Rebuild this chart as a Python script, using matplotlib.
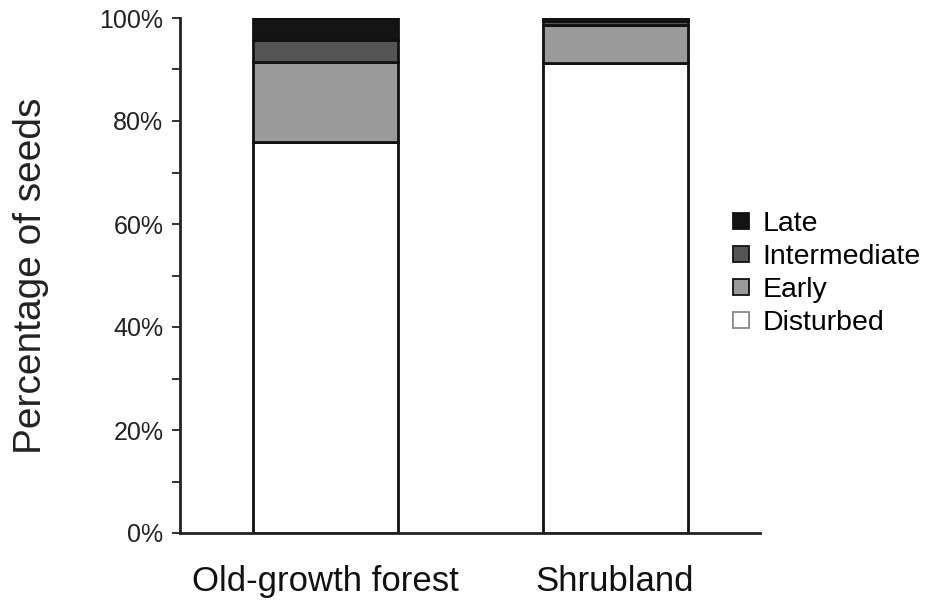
import matplotlib
matplotlib.use('Agg')
import matplotlib.pyplot as plt
from matplotlib.lines import Line2D
from matplotlib.ticker import MultipleLocator, FuncFormatter

plt.rcParams['font.family'] = ['Liberation Sans', 'DejaVu Sans']

# data (percent of seeds)
categories = ['Old-growth forest', 'Shrubland']
disturbed = [76.0, 91.3]
early = [15.5, 7.3]
intermediate = [4.3, 0.9]
late = [4.2, 0.5]

series = [
    ('Disturbed', disturbed, '#ffffff'),
    ('Early', early, '#9a9a9a'),
    ('Intermediate', intermediate, '#555555'),
    ('Late', late, '#141414'),
]

fig = plt.figure(figsize=(9.32, 6.02), dpi=100)
ax = fig.add_axes([180 / 932, 1 - 533 / 602, 580 / 932, 515 / 602])

x = list(range(len(categories)))
bottom = [0.0] * len(categories)
for name, vals, col in series:
    ax.bar(x, vals, width=0.5, bottom=bottom, color=col,
           edgecolor='#111111', linewidth=2.0, zorder=2)
    bottom = [b + v for b, v in zip(bottom, vals)]

ax.set_xlim(-0.5, 1.5)
ax.set_ylim(0, 100)

# axes styling
for s in ['top', 'right']:
    ax.spines[s].set_visible(False)
for s in ['left', 'bottom']:
    ax.spines[s].set_linewidth(2.0)
    ax.spines[s].set_color('#222222')

ax.yaxis.set_major_locator(MultipleLocator(20))
ax.yaxis.set_minor_locator(MultipleLocator(10))
ax.yaxis.set_major_formatter(FuncFormatter(lambda v, p: '%d%%' % v))
ax.tick_params(axis='y', which='both', direction='out', length=6,
               width=1.3, color='#222222')
ax.tick_params(axis='y', which='major', labelsize=18, pad=6,
               labelcolor='#222222')

ax.set_xticks(x)
ax.set_xticklabels(categories)
ax.tick_params(axis='x', length=0, labelsize=25, pad=23,
               labelcolor='#111111')

ax.set_ylabel('Percentage of seeds', fontsize=28, color='#222222')
ax.yaxis.set_label_coords(-0.225, 0.5)

# legend: Late on top
handles = []
for name, vals, col in reversed(series):
    edge = '#888888' if col == '#ffffff' else '#111111'
    handles.append(Line2D([], [], ls='', marker='s', markersize=11,
                          markerfacecolor=col, markeredgecolor=edge,
                          markeredgewidth=1.3, label=name))
fig.legend(handles=handles, loc='center left',
           bbox_to_anchor=(0.768, 0.546), frameon=False, fontsize=20.5,
           handlelength=0.8, handletextpad=0.35, labelspacing=0.25,
           borderpad=0)

fig.savefig('out.png', dpi=100)
